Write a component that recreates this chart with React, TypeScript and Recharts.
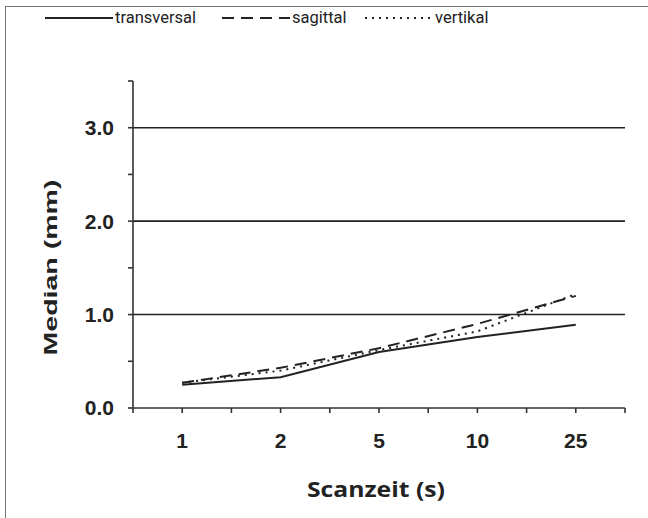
import { LineChart, Line, XAxis, YAxis, ReferenceLine, Label } from 'recharts';

const scanTimes = ['1', '2', '5', '10', '25'];
const transversal = [0.25, 0.33, 0.6, 0.76, 0.89];
const sagittal = [0.27, 0.43, 0.64, 0.9, 1.2];
const vertikal = [0.27, 0.4, 0.62, 0.82, 1.22];
const yTicks = [0, 0.5, 1, 1.5, 2, 2.5, 3, 3.5];
const gridValues = [1, 2, 3];

const data = scanTimes.map((label, i) => ({
	x: i + 1,
	label,
	transversal: transversal[i],
	sagittal: sagittal[i],
	vertikal: vertikal[i],
}));

const xTicks = [0.5, 1, 1.5, 2, 2.5, 3, 3.5, 4, 4.5, 5, 5.5];

const legendItems = [
	{ name: 'transversal', dash: undefined, x: 45 },
	{ name: 'sagittal', dash: '12 7', x: 222 },
	{ name: 'vertikal', dash: '2 5', x: 365 },
];

function LegendBar() {
	return (
		<svg
			width={648}
			height={34}
			style={{ position: 'absolute', left: 0, top: 0, display: 'block' }}>
			{legendItems.map((item) => (
				<g key={item.name}>
					<line
						x1={item.x}
						x2={item.x + 68}
						y1={18}
						y2={18}
						stroke='#222'
						strokeWidth={2}
						strokeDasharray={item.dash}
					/>
					<text
						x={item.x + 70}
						y={23}
						fontFamily='Roboto, sans-serif'
						fontSize={16.5}
						fill='#222'>
						{item.name}
					</text>
				</g>
			))}
		</svg>
	);
}

const tickStyle = {
	fontFamily: 'Liberation Sans, Arial, sans-serif',
	fontWeight: 'bold',
	fontSize: 21,
	fill: '#222',
};

// axis titles, stretched to the lengths seen in the picture
const XTitle = (props: any) => {
	const { x, y, width } = props.viewBox;
	return (
		<text
			x={x + width / 2 - 3}
			y={y + 89}
			textAnchor='middle'
			fontFamily='Open Sans, sans-serif'
			fontWeight='bold'
			fontSize={21}
			fill='#222'
			textLength={138}
			lengthAdjust='spacingAndGlyphs'>
			Scanzeit (s)
		</text>
	);
};

const YTitle = (props: any) => {
	const { y, height } = props.viewBox;
	const cx = 57;
	const cy = y + height / 2 + 23;
	return (
		<text
			x={cx}
			y={cy}
			transform={`rotate(-90, ${cx}, ${cy})`}
			textAnchor='middle'
			fontFamily='Liberation Sans, Arial, sans-serif'
			fontWeight='bold'
			fontSize={19}
			fill='#222'
			textLength={176}
			lengthAdjust='spacingAndGlyphs'>
			Median (mm)
		</text>
	);
};

export default function App() {
	return (
		<div
			style={{
				position: 'fixed',
				left: 0,
				top: 0,
				width: 648,
				height: 518,
				background: '#fff',
			}}>
			<div
				style={{
					position: 'absolute',
					left: 5,
					top: 6,
					width: 660,
					height: 530,
					borderLeft: '1.5px solid #777',
					borderTop: '1.5px solid #777',
				}}
			/>
			<LegendBar />
			<LineChart
				width={648}
				height={518}
				data={data}
				margin={{ top: 81, right: 23, bottom: 0, left: 0 }}>
				{gridValues.map((v) => (
					<ReferenceLine key={v} y={v} stroke='#222' strokeWidth={1.6} />
				))}
				<XAxis
					type='number'
					dataKey='x'
					domain={[0.5, 5.5]}
					ticks={xTicks}
					interval={0}
					tickSize={5}
					height={110}
					tickFormatter={(v: number) =>
						Number.isInteger(v) ? scanTimes[v - 1] : ''
					}
					tick={{ ...tickStyle, dy: 18 }}
					axisLine={{ stroke: '#333', strokeWidth: 1.6 }}
					tickLine={{ stroke: '#333', strokeWidth: 1.6 }}>
					<Label content={XTitle} />
				</XAxis>
				<YAxis
					width={133}
					domain={[0, 3.5]}
					ticks={yTicks}
					interval={0}
					tickSize={5}
					tickFormatter={(v: number) =>
						Number.isInteger(v) ? v.toFixed(1) : ''
					}
					tick={{ ...tickStyle, dx: -12 }}
					axisLine={{ stroke: '#333', strokeWidth: 1.6 }}
					tickLine={{ stroke: '#333', strokeWidth: 1.6 }}>
					<Label content={YTitle} />
				</YAxis>
				<Line
					type='linear'
					dataKey='transversal'
					stroke='#222'
					strokeWidth={2}
					dot={false}
					isAnimationActive={false}
				/>
				<Line
					type='linear'
					dataKey='sagittal'
					stroke='#222'
					strokeWidth={2}
					strokeDasharray='12 7'
					dot={false}
					isAnimationActive={false}
				/>
				<Line
					type='linear'
					dataKey='vertikal'
					stroke='#222'
					strokeWidth={2}
					strokeDasharray='2 5'
					dot={false}
					isAnimationActive={false}
				/>
			</LineChart>
		</div>
	);
}
